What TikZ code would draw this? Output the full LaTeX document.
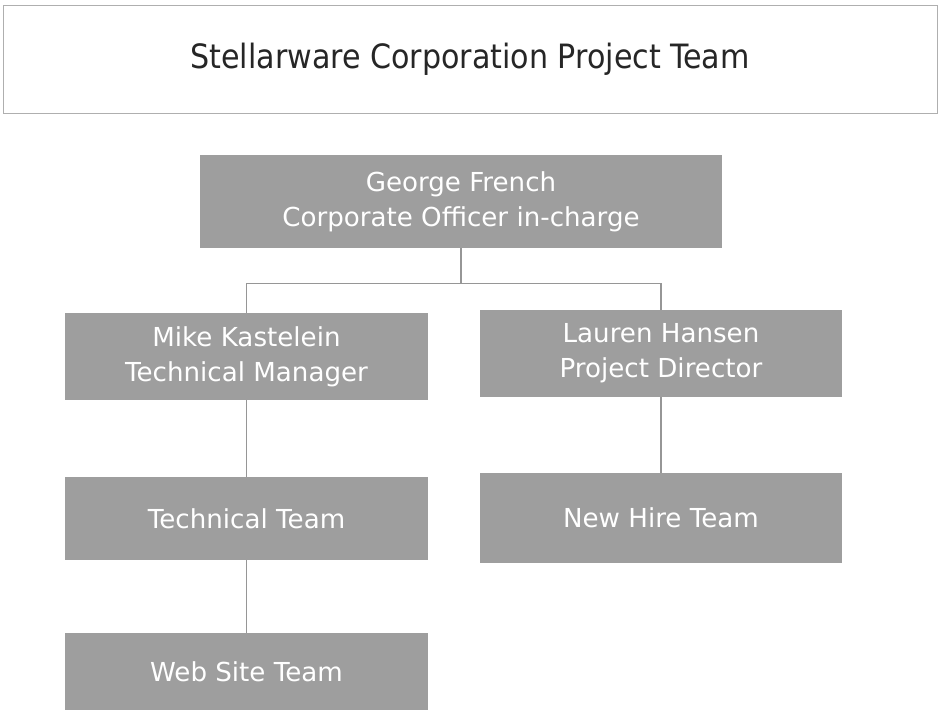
\documentclass[tikz,border=0pt]{standalone}
\usepackage{fontspec}
\setmainfont{DejaVu Sans}
\newfontfamily\titlefont{DejaVu Sans Condensed}
\usepackage{tikz}
\usetikzlibrary{positioning, calc}
\usepackage{xcolor}
\definecolor{boxgray}{RGB}{158, 158, 158}
\definecolor{linegray}{RGB}{150, 150, 150}
\definecolor{framegray}{RGB}{175, 175, 175}
\tikzset{
    banner/.style={rectangle, draw=framegray, line width=0.8pt, minimum width=28.02cm, minimum height=3.24cm, align=center, text=black!85, font=\titlefont\fontsize{28.6}{34}\selectfont},
    member/.style={rectangle, fill=boxgray, minimum width=10.89cm, minimum height=2.61cm, align=center, text=white, font=\fontsize{22.3}{30}\selectfont},
    team/.style={member, minimum height=2.49cm},
    link/.style={draw=linegray, line width=0.9pt}
}

\begin{document}
\begin{tikzpicture}
        \useasboundingbox (0,0) rectangle (28.17,-21.54);

        % Title box
        \node[banner] (title) at (14.1, -1.77) {Stellarware Corporation Project Team};

        % Top of the chart
        \node[member, minimum width=15.66cm, minimum height=2.79cm] (george) at (13.83, -6.045) {
            George French\\
            Corporate Officer in-charge
        };

        % Second level
        \node[member] (mike) at (7.395, -10.695) {
            Mike Kastelein\\
            Technical Manager
        };

        \node[member, minimum width=10.86cm] (lauren) at (19.83, -10.605) {
            Lauren Hansen\\
            Project Director
        };

        % Teams
        \node[team] (tech) at (7.395, -15.555) {Technical Team};
        \node[team, minimum width=10.86cm, minimum height=2.7cm] (newhire) at (19.83, -15.54) {New Hire Team};
        \node[team, minimum height=2.31cm] (web) at (7.395, -20.145) {Web Site Team};

        % Connectors
        \coordinate (fork) at ($(george.south)+(0,-1.05)$);
        \draw[link] (george.south) -- (fork);
        \draw[link] (mike.north) |- (fork) -| (lauren.north);
        \draw[link] (mike.south) -- (tech.north);
        \draw[link] (tech.south) -- (web.north);
        \draw[link] (lauren.south) -- (newhire.north);
    \end{tikzpicture}
\end{document}
